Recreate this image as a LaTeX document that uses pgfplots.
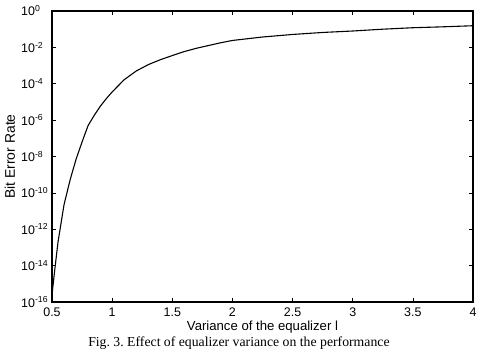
\documentclass[border=0pt]{standalone}
\usepackage{fontspec}
\setmainfont{Liberation Serif}
\newfontfamily\arial{Liberation Sans}
\usepackage{pgfplots}
\pgfplotsset{compat=1.18}
\frenchspacing
\begin{document}
\begin{tikzpicture}
\begin{axis}[
  scale only axis,
  width=421bp, height=291bp,
  xmin=0.5, xmax=4,
  ymode=log, ymin=1e-16, ymax=1,
  xtick={0.5,1,1.5,2,2.5,3,3.5,4},
  xticklabels={0.5,1,1.5,2,2.5,3,3.5,4},
  ytick={1e-16,1e-14,1e-12,1e-10,1e-8,1e-6,1e-4,1e-2,1},
  yticklabels={10\textsuperscript{-16},10\textsuperscript{-14},10\textsuperscript{-12},10\textsuperscript{-10},10\textsuperscript{-8},10\textsuperscript{-6},10\textsuperscript{-4},10\textsuperscript{-2},10\textsuperscript{0}},
  yminorticks=false,
  tick align=inside,
  major tick length=4bp,
  axis line style={line width=1.2pt},
  every tick/.style={black, line width=0.6pt},
  tick label style={font=\arial\fontsize{12.5}{14}\selectfont},
  yticklabel style={anchor=base west, inner xsep=0pt, xshift=-31bp, yshift=-5bp},
  xticklabel style={yshift=-2bp},
  xlabel={Variance of the equalizer l},
  ylabel={Bit Error Rate},
  xlabel style={font=\arial\fontsize{13.2}{15}\selectfont, at={(rel axis cs:0.5,-0.0962)}, anchor=base},
  ylabel style={font=\arial\fontsize{14}{16}\selectfont, at={(rel axis cs:-0.0879,0.5)}, rotate=0, anchor=base},
  clip=false,
]
\addplot[black, line width=1.1pt, mark=none] table[x=x, y expr=10^\thisrow{ly}] {
x ly
0.5 -15.7
0.505 -15.3
0.52 -14.4
0.55 -12.7
0.6 -10.65
0.65 -9.3
0.7 -8.15
0.75 -7.2
0.8 -6.3
0.85 -5.75
0.9 -5.25
0.95 -4.83
1.0 -4.45
1.1 -3.78
1.2 -3.3
1.3 -2.95
1.4 -2.68
1.5 -2.45
1.6 -2.23
1.7 -2.05
1.8 -1.9
1.9 -1.75
2.0 -1.62
2.25 -1.43
2.5 -1.29
2.75 -1.18
3.0 -1.1
3.25 -1.0
3.5 -0.92
3.75 -0.87
4.0 -0.81
};
\node[anchor=base, font=\fontsize{13.8}{16}\selectfont] at (rel axis cs:0.444,-0.152) {Fig. 3. Effect of equalizer variance on the performance};
\end{axis}
\path (current axis.south west) ++(-52bp,-48bp) coordinate (bbA);
\path (current axis.north east) ++(7bp,11bp) coordinate (bbB);
\pgfresetboundingbox
\useasboundingbox (bbA) rectangle (bbB);
\end{tikzpicture}
\end{document}
